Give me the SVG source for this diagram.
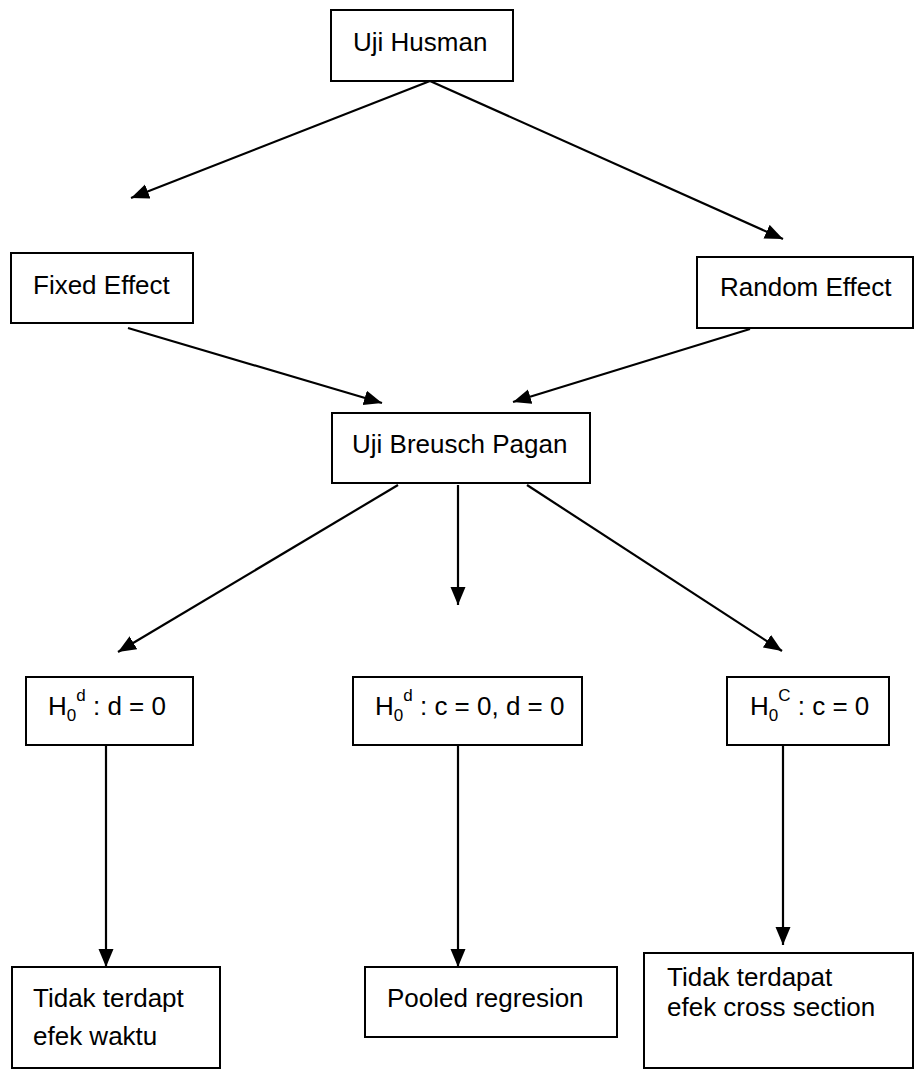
<svg xmlns="http://www.w3.org/2000/svg" width="920" height="1070" viewBox="0 0 920 1070">
<style>
.box{fill:#fff;stroke:#000;stroke-width:2}
.t{font-family:"Liberation Sans",Arial,sans-serif;font-size:26px;fill:#000}
.s{font-size:17px}
.c{stroke:#000;stroke-width:2.2;fill:none;marker-end:url(#ah)}
</style>
<defs>
<marker id="ah" markerUnits="userSpaceOnUse" markerWidth="20" markerHeight="16" refX="18" refY="7.5" orient="auto">
<path d="M0,0 L18,7.5 L0,15 z" fill="#000"/>
</marker>
</defs>
<g id="connectors">
<line class="c" x1="430" y1="81" x2="131" y2="198"/>
<line class="c" x1="430" y1="81" x2="783" y2="239"/>
<line class="c" x1="128" y1="328" x2="382" y2="403"/>
<line class="c" x1="750" y1="329" x2="513" y2="402"/>
<line class="c" x1="398" y1="485" x2="118" y2="652"/>
<line class="c" x1="458" y1="485" x2="458" y2="605"/>
<line class="c" x1="527" y1="485" x2="782" y2="651"/>
<line class="c" x1="106" y1="745" x2="106" y2="967"/>
<line class="c" x1="458" y1="745" x2="458" y2="967"/>
<line class="c" x1="783" y1="745" x2="783" y2="945"/>
</g>
<g id="uji-husman"><rect class="box" x="331" y="10" width="182" height="71"/><text class="t" x="353" y="51">Uji Husman</text></g>
<g id="fixed-effect"><rect class="box" x="11" y="253" width="182" height="70"/><text class="t" x="33" y="294">Fixed Effect</text></g>
<g id="random-effect"><rect class="box" x="697" y="257" width="216" height="71"/><text class="t" x="720" y="296">Random Effect</text></g>
<g id="uji-breusch-pagan"><rect class="box" x="332" y="413" width="258" height="70"/><text class="t" x="352" y="453">Uji Breusch Pagan</text></g>
<g id="h0d-d"><rect class="box" x="26" y="677" width="167" height="68"/><text class="t" x="48" y="715">H<tspan class="s" dy="6">0</tspan><tspan class="s" dy="-20">d</tspan><tspan dy="14"> : d = 0</tspan></text></g>
<g id="h0d-cd"><rect class="box" x="353" y="677" width="229" height="68"/><text class="t" x="375" y="715">H<tspan class="s" dy="6">0</tspan><tspan class="s" dy="-20">d</tspan><tspan dy="14"> : c = 0, d = 0</tspan></text></g>
<g id="h0c-c"><rect class="box" x="727" y="677" width="162" height="68"/><text class="t" x="750" y="715">H<tspan class="s" dy="6">0</tspan><tspan class="s" dy="-20">C</tspan><tspan dy="14"> : c = 0</tspan></text></g>
<g id="tidak-waktu"><rect class="box" x="12" y="967" width="208" height="101"/><text class="t" x="33" y="1007">Tidak terdapt</text><text class="t" x="33" y="1045">efek waktu</text></g>
<g id="pooled"><rect class="box" x="365" y="967" width="252" height="70"/><text class="t" x="387" y="1007">Pooled regresion</text></g>
<g id="tidak-cross"><rect class="box" x="644" y="953" width="269" height="115"/><text class="t" x="667" y="986">Tidak terdapat</text><text class="t" x="667" y="1016">efek cross section</text></g>
</svg>
